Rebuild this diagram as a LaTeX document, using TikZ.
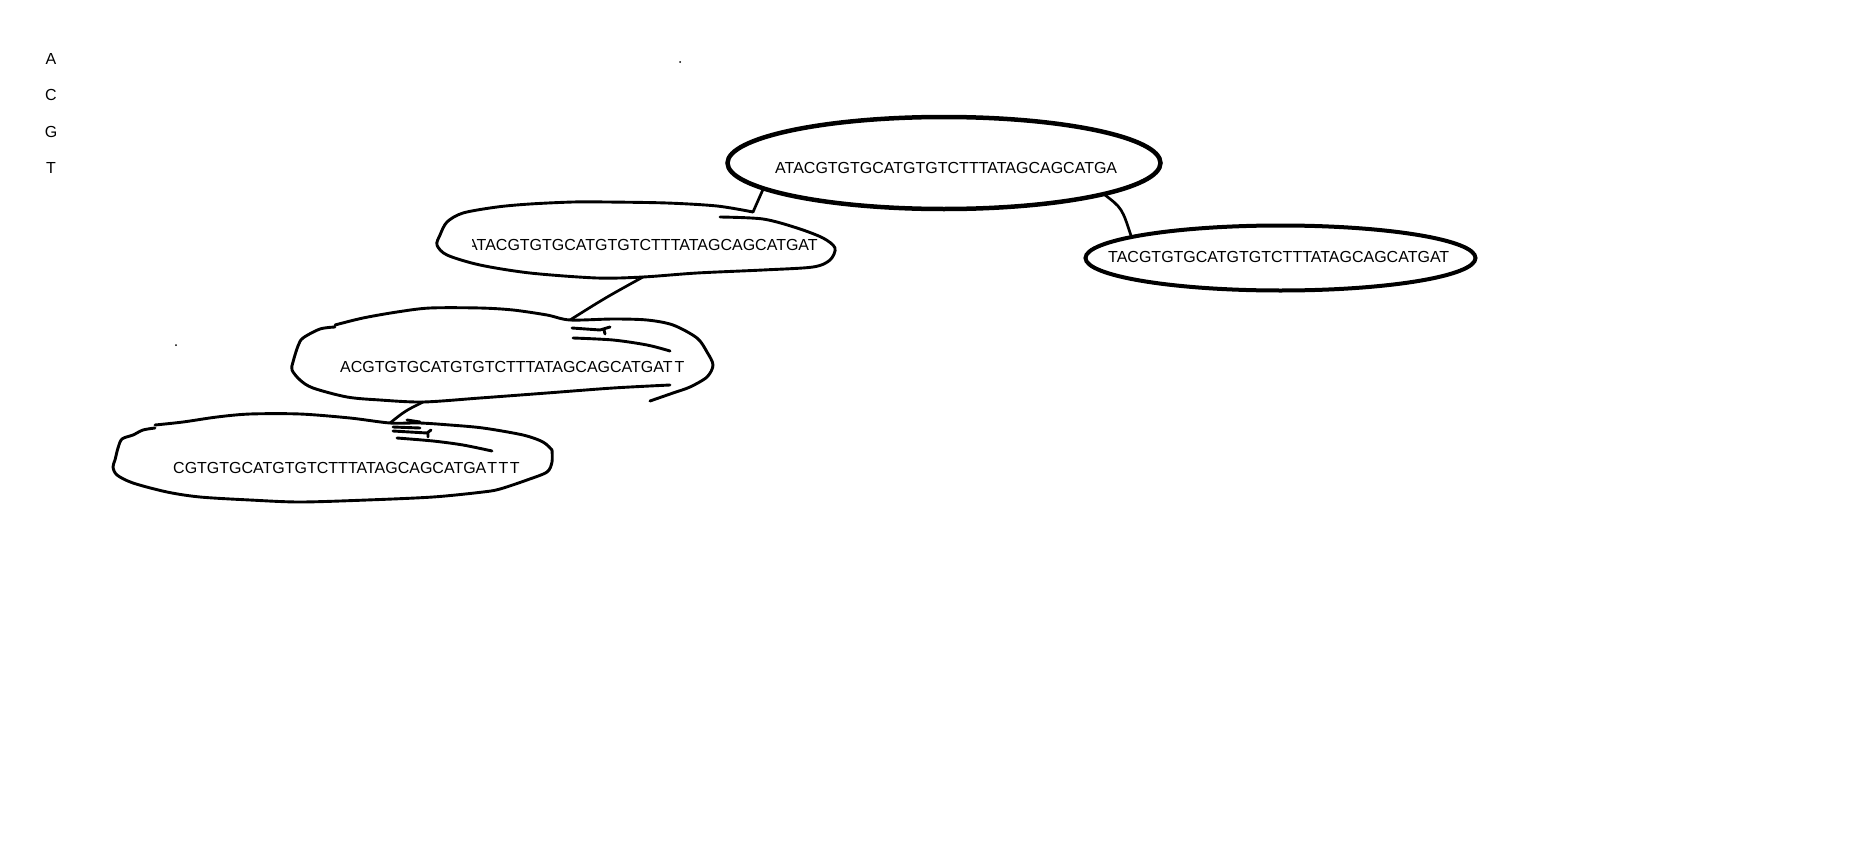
\documentclass[tikz,border=0pt]{standalone}
\usepackage{fontspec}
\setmainfont{Liberation Sans}
\usetikzlibrary{shapes.geometric}

\begin{document}
\begin{tikzpicture}[x=1pt, y=-1pt,
		seq/.style={font=\fontsize{16}{19}\selectfont, inner sep=0pt, anchor=west},
		oval/.style={draw, ellipse, inner sep=0pt, outer sep=0pt},
		sketch/.style={line width=2.9pt, line cap=round, line join=round},
		link/.style={line width=2.7pt, line cap=round}]
	\fill[white] (0,0) rectangle (1861,862);
	\useasboundingbox (0,0) rectangle (1861,862);
	\foreach \b [count=\i] in {A,C,G,T}
		\node[seq, anchor=center] (base\b) at (51,{59+36.3*(\i-1)}) {\b};
	\fill (680,62) circle (1pt);
	\fill (176,345) circle (1pt);

	\node[oval, line width=4.5pt, minimum width=433pt, minimum height=92pt] (root) at (944,163) {};
	\node[seq] (rootseq) at (775,168) {ATACGTGTGCATGTGTCTTTATAGCAGCATGA};
	\node[oval, line width=4pt, minimum width=390pt, minimum height=65pt] (rightoval) at (1280.5,258) {};
	\node[seq] (rightseq) at (1108,257) {TACGTGTGCATGTGTCTTTATAGCAGCATGAT};

	\draw[sketch] plot[smooth, tension=0.5] coordinates {(753,212) (717,206) (667,203) (607,202) (573,202) (530,204) (497,207) (463,213) (447,222) (440,235) (437,245) (447,255) (480,265) (530,273) (597,278) (643,277) (697,273) (763,270) (813,267) (830,260) (835,248) (823,238) (797,228) (763,219) (720,217)};
	\begin{scope}
		\clip (472,220) rectangle (830,270);
		\node[seq] (seqa) at (467,245) {ATACGTGTGCATGTGTCTTTATAGCAGCATGAT};
	\end{scope}
	\coordinate (seqatop) at (753,212);
	\coordinate (seqabot) at (643,277);

	\draw[sketch] plot[smooth, tension=0.5] coordinates {(335,327) (320,329) (303,338) (298,346) (293,362) (292,370) (300,380) (313,388) (347,397) (380,400) (423,402) (480,398) (547,393) (613,388) (670,385)};
	\draw[sketch] plot[smooth, tension=0.5] coordinates {(335,325) (363,318) (397,312) (430,308) (480,308) (513,310) (547,315) (570,320) (613,319) (647,320) (673,325) (697,338) (707,352) (713,365) (707,377) (690,387) (673,393) (650,401)};
	\draw[sketch] (572,328) -- (600,330) -- (610,327) (604,330) -- (605,334);
	\draw[sketch] plot[smooth] coordinates {(573,338) (613,340) (647,345) (670,351)};
	\node[seq] (seqb) at (340,367) {ACGTGTGCATGTGTCTTTATAGCAGCATGAT\kern2pt T};
	\coordinate (seqbtop) at (570,320);
	\coordinate (seqbbot) at (423,402);

	\draw[sketch] plot[smooth, tension=0.5] coordinates {(155,428) (143,430) (133,435) (122,439) (118,448) (115,460) (113,467) (117,475) (133,483) (167,492) (200,497) (250,500) (300,502) (367,500) (433,497) (483,492) (500,489) (527,480) (547,472) (552,462) (552,450)};
	\draw[sketch] plot[smooth, tension=0.5] coordinates {(155,425) (183,422) (217,417) (250,414) (300,414) (350,418) (390,423) (420,423) (450,425) (483,428) (523,435) (543,442) (552,450)};
	\draw[sketch] (407,420) -- (420,422) (393,427) -- (420,428) (393,431) -- (427,433) -- (431,430) (428,432) -- (428,437);
	\draw[sketch] plot[smooth] coordinates {(397,438) (433,441) (463,445) (492,451)};
	\node[seq] (seqc) at (173,468) {CGTGTGCATGTGTCTTTATAGCAGCATGA\kern1pt T\kern1.5pt T\kern1.5pt T};
	\coordinate (seqctop) at (390,423);

	\draw[link] (root.188) -- (seqatop);
	\draw[link] (root.-11) .. controls (1122,208) .. (rightoval.172);
	\draw[link] (seqabot) .. controls (605,298) .. (seqbtop);
	\draw[link] (seqbbot) .. controls (405,411) .. (seqctop);
\end{tikzpicture}
\end{document}
